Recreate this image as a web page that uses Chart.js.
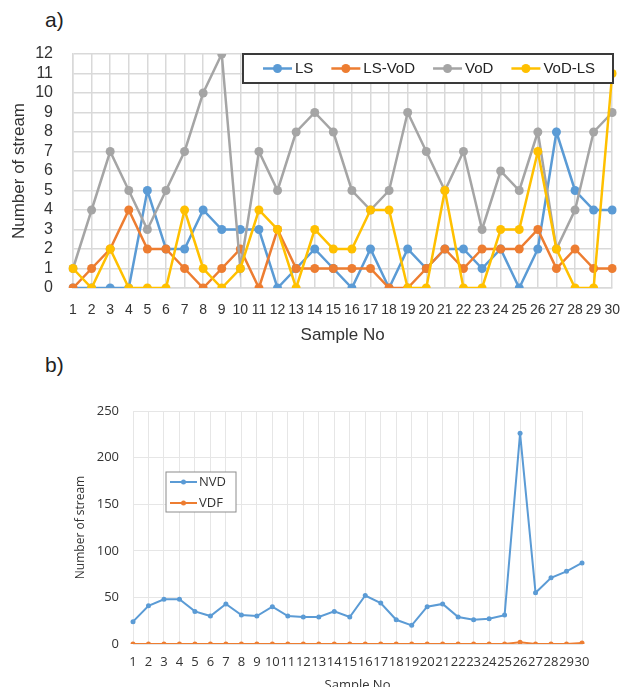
<!DOCTYPE html>
<html>
<head>
<meta charset="utf-8">
<script src="https://cdn.jsdelivr.net/npm/chart.js@4"></script>
<style>
  html, body { margin: 0; padding: 0; background: #fff; overflow: hidden; }
  body { width: 634px; height: 687px; position: relative; font-family: "Liberation Sans", Arial, sans-serif; }
  canvas { position: absolute; left: 0; }
  .tag { position: absolute; left: 45px; font-size: 21px; line-height: 24px; color: #222; }
</style>
</head>
<body>
<div class="tag" style="top:8px;">a)</div>
<div class="tag" style="top:353px;">b)</div>
<canvas id="streamChart" width="634" height="350" style="top:0;"></canvas>
<canvas id="typeChart" width="634" height="350" style="top:350px;"></canvas>
<script>
// Sample numbers shared by both panels
const samples = ['1','2','3','4','5','6','7','8','9','10','11','12','13','14','15',
                 '16','17','18','19','20','21','22','23','24','25','26','27','28','29','30'];

// panel a) stream counts per sample
const lsCounts    = [0,0,0,0,5,2,2,4,3,3,3,0,1,2,1,0,2,0,2,1,2,2,1,2,0,2,8,5,4,4];
const lsVodCounts = [0,1,2,4,2,2,1,0,1,2,0,3,1,1,1,1,1,0,0,1,2,1,2,2,2,3,1,2,1,1];
const vodCounts   = [1,4,7,5,3,5,7,10,12,1,7,5,8,9,8,5,4,5,9,7,5,7,3,6,5,8,2,4,8,9];
const vodLsCounts = [1,0,2,0,0,0,4,1,0,1,4,3,0,3,2,2,4,4,0,0,5,0,0,3,3,7,2,0,0,11];

// panel b)
const nvdCounts = [24,41,48,48,35,30,43,31,30,40,30,29,29,35,29,52,44,26,20,40,43,29,26,27,31,226,55,71,78,87];
const vdfCounts = [0,0,0,0,0,0,0,0,0,0,0,0,0,0,0,0,0,0,0,0,0,0,0,0,0,2,0,0,0,1];

// legend drawn as a boxed panel on top of the plot
const boxLegend = {
    id: 'boxLegend',
    afterDraw(chart, args, o) {
        const ctx = chart.ctx;
        ctx.save();
        ctx.fillStyle = '#fff';
        ctx.fillRect(o.x, o.y, o.w, o.h);
        ctx.lineWidth = o.borderWidth;
        ctx.strokeStyle = o.borderColor;
        ctx.strokeRect(o.x, o.y, o.w, o.h);
        ctx.font = o.font;
        ctx.textBaseline = 'middle';
        let x = o.x + o.padLeft;
        let cy = o.y + o.firstRow;
        chart.data.datasets.forEach(ds => {
            ctx.strokeStyle = ds.borderColor;
            ctx.lineWidth = ds.borderWidth;
            ctx.beginPath();
            ctx.moveTo(x, cy);
            ctx.lineTo(x + o.symbolWidth, cy);
            ctx.stroke();
            ctx.fillStyle = ds.borderColor;
            ctx.beginPath();
            ctx.arc(x + o.symbolWidth / 2, cy, o.dotRadius, 0, Math.PI * 2);
            ctx.fill();
            ctx.fillStyle = o.color;
            ctx.fillText(ds.label, x + o.symbolWidth + o.textGap, cy);
            if (o.vertical) {
                cy += o.rowHeight;
            } else {
                x += o.symbolWidth + o.textGap + ctx.measureText(ds.label).width + o.itemGap;
            }
        });
        ctx.restore();
    }
};

const streamCtx = document.getElementById('streamChart').getContext('2d');
const streamChart = new Chart(streamCtx, {
    type: 'line',
    data: {
        labels: samples,
        datasets: [
            { label: 'LS', data: lsCounts, borderColor: '#5B9BD5', order: 4 },
            { label: 'LS-VoD', data: lsVodCounts, borderColor: '#ED7D31', order: 3 },
            { label: 'VoD', data: vodCounts, borderColor: '#A5A5A5', order: 2 },
            { label: 'VoD-LS', data: vodLsCounts, borderColor: '#FFC000', order: 1 }
        ].map(ds => Object.assign(ds, {
            backgroundColor: ds.borderColor,
            pointBackgroundColor: ds.borderColor,
            borderWidth: 2.5,
            pointRadius: 4.5,
            pointBorderWidth: 0,
            tension: 0
        }))
    },
    options: {
        responsive: false,
        animation: false,
        layout: { padding: { top: 54, right: 9, bottom: 0, left: 0 } },
        plugins: {
            legend: { display: false },
            tooltip: { enabled: false },
            boxLegend: {
                x: 243, y: 54, w: 370, h: 29, firstRow: 14.5,
                padLeft: 20, symbolWidth: 29, textGap: 3, itemGap: 18, dotRadius: 4.5,
                borderColor: '#3a3a3a', borderWidth: 2,
                font: '15px "Liberation Sans", Arial, sans-serif', color: '#222'
            }
        },
        scales: {
            x: {
                afterFit: s => { s.height = 62; },
                grid: { color: '#d9d9d9', lineWidth: 1.5, drawTicks: false },
                border: { color: '#d9d9d9', width: 1.5 },
                ticks: {
                    autoSkip: false, maxRotation: 0, minRotation: 0, padding: 14,
                    color: '#333', font: { family: '"Liberation Sans", Arial, sans-serif', size: 14 }
                },
                title: {
                    display: true, text: 'Sample No', color: '#333',
                    padding: { top: 0, bottom: 4 },
                    font: { family: '"Liberation Sans", Arial, sans-serif', size: 17 }
                }
            },
            y: {
                min: 0, max: 12,
                afterFit: s => { s.width = 73; },
                grid: { color: '#d9d9d9', lineWidth: 1.5, drawTicks: false },
                border: { color: '#d9d9d9', width: 1.5 },
                ticks: {
                    stepSize: 1, autoSkip: false, padding: 20, color: '#333',
                    font: { family: '"Liberation Sans", Arial, sans-serif', size: 16 }
                },
                title: {
                    display: true, text: 'Number of stream', color: '#333',
                    padding: { top: 9, bottom: 0 },
                    font: { family: '"Liberation Sans", Arial, sans-serif', size: 17 }
                }
            }
        }
    },
    plugins: [boxLegend]
});

const typeCtx = document.getElementById('typeChart').getContext('2d');
const typeChart = new Chart(typeCtx, {
    type: 'line',
    data: {
        labels: samples,
        datasets: [
            { label: 'NVD', data: nvdCounts, borderColor: '#5B9BD5', order: 2 },
            { label: 'VDF', data: vdfCounts, borderColor: '#ED7D31', order: 1 }
        ].map(ds => Object.assign(ds, {
            backgroundColor: ds.borderColor,
            pointBackgroundColor: ds.borderColor,
            borderWidth: 2,
            pointRadius: 2.5,
            pointBorderWidth: 0,
            tension: 0
        }))
    },
    options: {
        responsive: false,
        animation: false,
        layout: { padding: { top: 61, right: 52, bottom: 0, left: 0 } },
        plugins: {
            legend: { display: false },
            tooltip: { enabled: false },
            boxLegend: {
                x: 166, y: 122, w: 70, h: 40, firstRow: 10, rowHeight: 21, vertical: true,
                padLeft: 4, symbolWidth: 27, textGap: 2, itemGap: 0, dotRadius: 2.5,
                borderColor: '#8c8c8c', borderWidth: 1,
                font: '13px "Open Sans", Arial, sans-serif', color: '#333'
            }
        },
        scales: {
            x: {
                afterFit: s => { s.height = 56; },
                grid: { color: '#e6e6e6', lineWidth: 1, drawTicks: false },
                border: { color: '#e6e6e6' },
                ticks: {
                    autoSkip: false, maxRotation: 0, minRotation: 0, padding: 10,
                    color: '#333', font: { family: '"Open Sans", Arial, sans-serif', size: 13 }
                },
                title: {
                    display: true, text: 'Sample No', color: '#333',
                    padding: { top: 0, bottom: 7 },
                    font: { family: '"Open Sans", Arial, sans-serif', size: 13 }
                }
            },
            y: {
                min: 0, max: 250,
                afterFit: s => { s.width = 133; },
                grid: { color: '#e6e6e6', lineWidth: 1, drawTicks: false },
                border: { color: '#e6e6e6' },
                ticks: {
                    stepSize: 50, padding: 14, color: '#333',
                    font: { family: '"Open Sans", Arial, sans-serif', size: 13 }
                },
                title: {
                    display: true, text: 'Number of stream', color: '#333',
                    padding: { top: 73, bottom: 0 },
                    font: { family: '"Open Sans", Arial, sans-serif', size: 12 }
                }
            }
        }
    },
    plugins: [boxLegend]
});
</script>
</body>
</html>
